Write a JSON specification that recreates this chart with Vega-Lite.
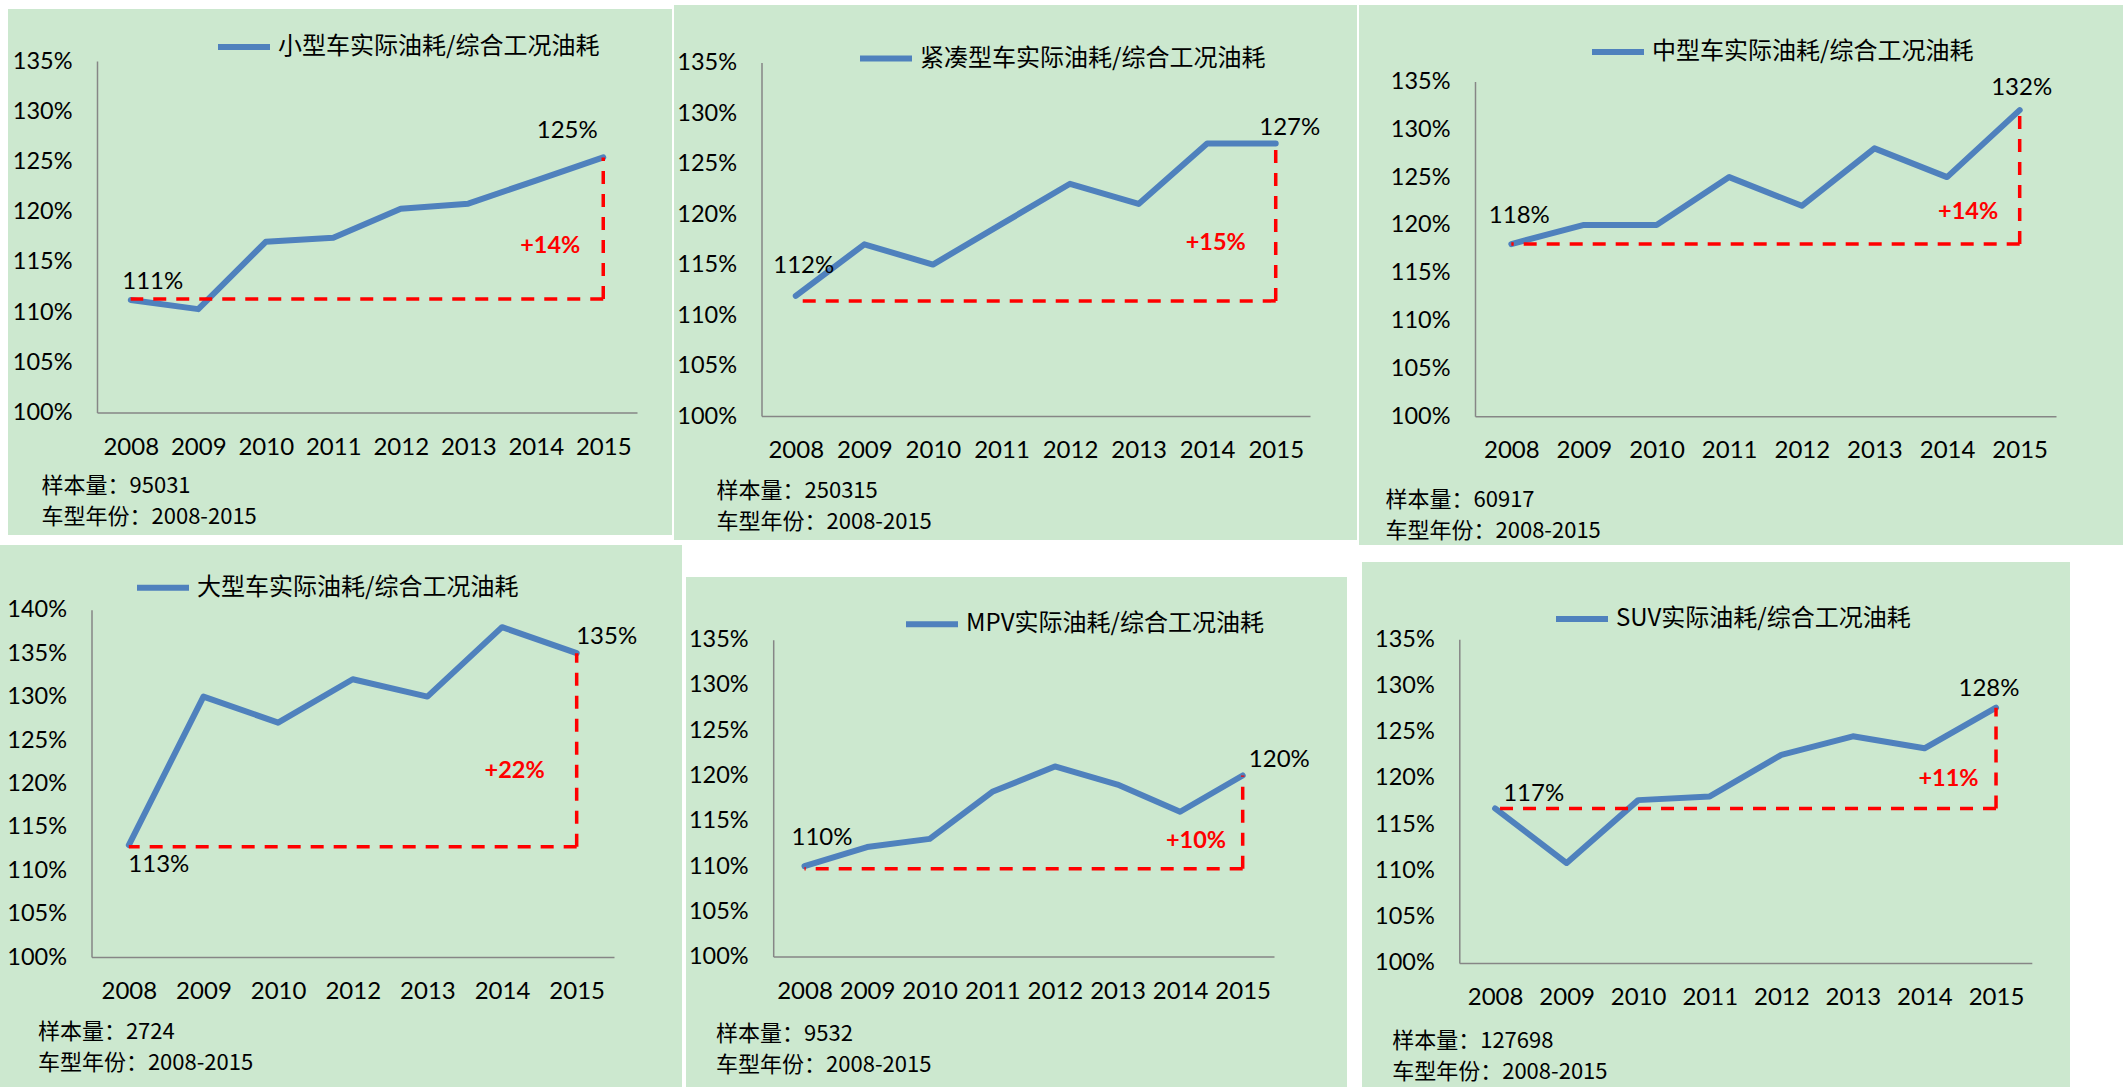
{
  "$schema": "https://vega.github.io/schema/vega-lite/v6.json",
  "padding": {"top": 5, "left": 0, "right": 0, "bottom": 0},
  "background": "#FFFFFF",
  "datasets": {
    "series": [
      {"panel": "小型车实际油耗/综合工况油耗", "year": 2008, "ratio": 1.112},
      {"panel": "小型车实际油耗/综合工况油耗", "year": 2009, "ratio": 1.103},
      {"panel": "小型车实际油耗/综合工况油耗", "year": 2010, "ratio": 1.170},
      {"panel": "小型车实际油耗/综合工况油耗", "year": 2011, "ratio": 1.174},
      {"panel": "小型车实际油耗/综合工况油耗", "year": 2012, "ratio": 1.203},
      {"panel": "小型车实际油耗/综合工况油耗", "year": 2013, "ratio": 1.208},
      {"panel": "小型车实际油耗/综合工况油耗", "year": 2014, "ratio": 1.231},
      {"panel": "小型车实际油耗/综合工况油耗", "year": 2015, "ratio": 1.254},
      {"panel": "紧凑型车实际油耗/综合工况油耗", "year": 2008, "ratio": 1.119},
      {"panel": "紧凑型车实际油耗/综合工况油耗", "year": 2009, "ratio": 1.170},
      {"panel": "紧凑型车实际油耗/综合工况油耗", "year": 2010, "ratio": 1.150},
      {"panel": "紧凑型车实际油耗/综合工况油耗", "year": 2011, "ratio": 1.190},
      {"panel": "紧凑型车实际油耗/综合工况油耗", "year": 2012, "ratio": 1.230},
      {"panel": "紧凑型车实际油耗/综合工况油耗", "year": 2013, "ratio": 1.210},
      {"panel": "紧凑型车实际油耗/综合工况油耗", "year": 2014, "ratio": 1.270},
      {"panel": "紧凑型车实际油耗/综合工况油耗", "year": 2015, "ratio": 1.270},
      {"panel": "中型车实际油耗/综合工况油耗", "year": 2008, "ratio": 1.180},
      {"panel": "中型车实际油耗/综合工况油耗", "year": 2009, "ratio": 1.200},
      {"panel": "中型车实际油耗/综合工况油耗", "year": 2010, "ratio": 1.200},
      {"panel": "中型车实际油耗/综合工况油耗", "year": 2011, "ratio": 1.250},
      {"panel": "中型车实际油耗/综合工况油耗", "year": 2012, "ratio": 1.220},
      {"panel": "中型车实际油耗/综合工况油耗", "year": 2013, "ratio": 1.280},
      {"panel": "中型车实际油耗/综合工况油耗", "year": 2014, "ratio": 1.250},
      {"panel": "中型车实际油耗/综合工况油耗", "year": 2015, "ratio": 1.320},
      {"panel": "大型车实际油耗/综合工况油耗", "year": 2008, "ratio": 1.129},
      {"panel": "大型车实际油耗/综合工况油耗", "year": 2009, "ratio": 1.300},
      {"panel": "大型车实际油耗/综合工况油耗", "year": 2010, "ratio": 1.270},
      {"panel": "大型车实际油耗/综合工况油耗", "year": 2012, "ratio": 1.320},
      {"panel": "大型车实际油耗/综合工况油耗", "year": 2013, "ratio": 1.300},
      {"panel": "大型车实际油耗/综合工况油耗", "year": 2014, "ratio": 1.380},
      {"panel": "大型车实际油耗/综合工况油耗", "year": 2015, "ratio": 1.350},
      {"panel": "MPV实际油耗/综合工况油耗", "year": 2008, "ratio": 1.100},
      {"panel": "MPV实际油耗/综合工况油耗", "year": 2009, "ratio": 1.121},
      {"panel": "MPV实际油耗/综合工况油耗", "year": 2010, "ratio": 1.130},
      {"panel": "MPV实际油耗/综合工况油耗", "year": 2011, "ratio": 1.182},
      {"panel": "MPV实际油耗/综合工况油耗", "year": 2012, "ratio": 1.210},
      {"panel": "MPV实际油耗/综合工况油耗", "year": 2013, "ratio": 1.190},
      {"panel": "MPV实际油耗/综合工况油耗", "year": 2014, "ratio": 1.160},
      {"panel": "MPV实际油耗/综合工况油耗", "year": 2015, "ratio": 1.200},
      {"panel": "SUV实际油耗/综合工况油耗", "year": 2008, "ratio": 1.167},
      {"panel": "SUV实际油耗/综合工况油耗", "year": 2009, "ratio": 1.108},
      {"panel": "SUV实际油耗/综合工况油耗", "year": 2010, "ratio": 1.176},
      {"panel": "SUV实际油耗/综合工况油耗", "year": 2011, "ratio": 1.180},
      {"panel": "SUV实际油耗/综合工况油耗", "year": 2012, "ratio": 1.225},
      {"panel": "SUV实际油耗/综合工况油耗", "year": 2013, "ratio": 1.245},
      {"panel": "SUV实际油耗/综合工况油耗", "year": 2014, "ratio": 1.232},
      {"panel": "SUV实际油耗/综合工况油耗", "year": 2015, "ratio": 1.276}
    ],
    "notes": [
      {"panel": "小型车实际油耗/综合工况油耗", "start": 2008, "year": 2015, "ratio": 1.113, "last": 1.254, "change": "+14%"},
      {"panel": "紧凑型车实际油耗/综合工况油耗", "start": 2008, "year": 2015, "ratio": 1.114, "last": 1.270, "change": "+15%"},
      {"panel": "中型车实际油耗/综合工况油耗", "start": 2008, "year": 2015, "ratio": 1.180, "last": 1.320, "change": "+14%"},
      {"panel": "大型车实际油耗/综合工况油耗", "start": 2008, "year": 2015, "ratio": 1.127, "last": 1.350, "change": "+22%"},
      {"panel": "MPV实际油耗/综合工况油耗", "start": 2008, "year": 2015, "ratio": 1.097, "last": 1.200, "change": "+10%"},
      {"panel": "SUV实际油耗/综合工况油耗", "start": 2008, "year": 2015, "ratio": 1.167, "last": 1.276, "change": "+11%"}
    ]
  },
  "resolve": {"scale": {"x": "independent", "y": "independent", "color": "independent"}, "legend": {"color": "independent"}},
  "spacing": 0,
  "vconcat": [
    {
      "spacing": 2,
      "resolve": {"scale": {"x": "independent", "y": "independent", "color": "independent"}, "legend": {"color": "independent"}},
      "hconcat": [
        {"width": 6, "height": 1, "data": {"values": []}, "mark": "point"},
        {
          "width": 664, "height": 540,
          "view": {"stroke": null, "fill": {"gradient": "linear", "x1": 0, "y1": 0, "x2": 0, "y2": 1, "stops": [{"offset": 0, "color": "#FFFFFF"}, {"offset": 0.0074, "color": "#FFFFFF"}, {"offset": 0.0074, "color": "#CCE8CF"}, {"offset": 0.9815, "color": "#CCE8CF"}, {"offset": 0.9815, "color": "#FFFFFF"}, {"offset": 1, "color": "#FFFFFF"}]}},
          "data": {"name": "series"},
          "encoding": {
            "x": {"field": "year", "type": "ordinal", "scale": {"type": "point", "range": [89, 629], "padding": 0.5},
                  "axis": {"offset": -132.4, "title": ["样本量：95031", "车型年份：2008-2015"], "titleX": 33, "titleY": 63.3}},
            "y": {"field": "ratio", "type": "quantitative", "scale": {"domain": [1, 1.35], "range": [407.6, 56], "nice": false, "zero": false},
                  "axis": {"offset": -89, "title": null, "format": ".0%", "values": [1, 1.05, 1.1, 1.15, 1.2, 1.25, 1.3, 1.35]}}
          },
          "layer": [
            {"transform": [{"filter": "datum.panel === '小型车实际油耗/综合工况油耗'"}],
             "mark": {"type": "line", "strokeWidth": 6, "strokeCap": "round", "strokeJoin": "round"},
             "encoding": {"color": {"field": "panel", "type": "nominal", "scale": {"range": ["#4F81BD"]}, "legend": {"orient": "none", "title": null, "legendX": 207, "legendY": 13}}}},
            {"transform": [{"filter": "datum.panel === '小型车实际油耗/综合工况油耗' && datum.year === 2008"}],
             "mark": {"type": "text", "dx": 22, "dy": -18}, "encoding": {"text": {"field": "ratio", "format": ".0%"}}},
            {"transform": [{"filter": "datum.panel === '小型车实际油耗/综合工况油耗' && datum.year === 2015"}],
             "mark": {"type": "text", "dx": -36, "dy": -26}, "encoding": {"text": {"field": "ratio", "format": ".0%"}}},
            {"data": {"name": "notes"}, "transform": [{"filter": "datum.panel === '小型车实际油耗/综合工况油耗'"}],
             "mark": {"type": "rule", "color": "#FF0000", "strokeWidth": 3.5, "strokeDash": [13, 10]}, "encoding": {"x2": {"field": "start"}}},
            {"data": {"name": "notes"}, "transform": [{"filter": "datum.panel === '小型车实际油耗/综合工况油耗'"}],
             "mark": {"type": "rule", "color": "#FF0000", "strokeWidth": 3.5, "strokeDash": [13, 10]}, "encoding": {"y2": {"field": "last"}}},
            {"data": {"name": "notes"}, "transform": [{"filter": "datum.panel === '小型车实际油耗/综合工况油耗'"}],
             "mark": {"type": "text", "dx": -53, "dy": -53, "color": "#FF0000", "fontWeight": "bold", "fontSize": 23.5}, "encoding": {"text": {"field": "change"}}}
          ]
        },
        {
          "width": 683, "height": 540,
          "view": {"stroke": null, "fill": {"gradient": "linear", "x1": 0, "y1": 0, "x2": 0, "y2": 1, "stops": [{"offset": 0, "color": "#CCE8CF"}, {"offset": 0.9907, "color": "#CCE8CF"}, {"offset": 0.9907, "color": "#FFFFFF"}, {"offset": 1, "color": "#FFFFFF"}]}},
          "data": {"name": "series"},
          "encoding": {
            "x": {"field": "year", "type": "ordinal", "scale": {"type": "point", "range": [87.5, 636], "padding": 0.5},
                  "axis": {"offset": -129, "title": ["样本量：250315", "车型年份：2008-2015"], "titleX": 42, "titleY": 64.3}},
            "y": {"field": "ratio", "type": "quantitative", "scale": {"domain": [1, 1.35], "range": [411, 57.6], "nice": false, "zero": false},
                  "axis": {"offset": -87.5, "title": null, "format": ".0%", "values": [1, 1.05, 1.1, 1.15, 1.2, 1.25, 1.3, 1.35]}}
          },
          "layer": [
            {"transform": [{"filter": "datum.panel === '紧凑型车实际油耗/综合工况油耗'"}],
             "mark": {"type": "line", "strokeWidth": 6, "strokeCap": "round", "strokeJoin": "round"},
             "encoding": {"color": {"field": "panel", "type": "nominal", "scale": {"range": ["#4F81BD"]}, "legend": {"orient": "none", "title": null, "legendX": 183, "legendY": 24.6}}}},
            {"transform": [{"filter": "datum.panel === '紧凑型车实际油耗/综合工况油耗' && datum.year === 2008"}],
             "mark": {"type": "text", "dx": 8, "dy": -29.5}, "encoding": {"text": {"field": "ratio", "format": ".0%"}}},
            {"transform": [{"filter": "datum.panel === '紧凑型车实际油耗/综合工况油耗' && datum.year === 2015"}],
             "mark": {"type": "text", "dx": 14, "dy": -15}, "encoding": {"text": {"field": "ratio", "format": ".0%"}}},
            {"data": {"name": "notes"}, "transform": [{"filter": "datum.panel === '紧凑型车实际油耗/综合工况油耗'"}],
             "mark": {"type": "rule", "color": "#FF0000", "strokeWidth": 3.5, "strokeDash": [13, 10]}, "encoding": {"x2": {"field": "start"}}},
            {"data": {"name": "notes"}, "transform": [{"filter": "datum.panel === '紧凑型车实际油耗/综合工况油耗'"}],
             "mark": {"type": "rule", "color": "#FF0000", "strokeWidth": 3.5, "strokeDash": [13, 10]}, "encoding": {"y2": {"field": "last"}}},
            {"data": {"name": "notes"}, "transform": [{"filter": "datum.panel === '紧凑型车实际油耗/综合工况油耗'"}],
             "mark": {"type": "text", "dx": -60, "dy": -58, "color": "#FF0000", "fontWeight": "bold", "fontSize": 23.5}, "encoding": {"text": {"field": "change"}}}
          ]
        },
        {
          "width": 764, "height": 540,
          "view": {"stroke": null, "fill": "#CCE8CF"},
          "data": {"name": "series"},
          "encoding": {
            "x": {"field": "year", "type": "ordinal", "scale": {"type": "point", "range": [116, 697], "padding": 0.5},
                  "axis": {"offset": -128.7, "title": ["样本量：60917", "车型年份：2008-2015"], "titleX": 26, "titleY": 73.4}},
            "y": {"field": "ratio", "type": "quantitative", "scale": {"domain": [1, 1.35], "range": [411.3, 76.4], "nice": false, "zero": false},
                  "axis": {"offset": -116, "title": null, "format": ".0%", "values": [1, 1.05, 1.1, 1.15, 1.2, 1.25, 1.3, 1.35]}}
          },
          "layer": [
            {"transform": [{"filter": "datum.panel === '中型车实际油耗/综合工况油耗'"}],
             "mark": {"type": "line", "strokeWidth": 6, "strokeCap": "round", "strokeJoin": "round"},
             "encoding": {"color": {"field": "panel", "type": "nominal", "scale": {"range": ["#4F81BD"]}, "legend": {"orient": "none", "title": null, "legendX": 230, "legendY": 18.1}}}},
            {"transform": [{"filter": "datum.panel === '中型车实际油耗/综合工况油耗' && datum.year === 2008"}],
             "mark": {"type": "text", "dx": 8, "dy": -28}, "encoding": {"text": {"field": "ratio", "format": ".0%"}}},
            {"transform": [{"filter": "datum.panel === '中型车实际油耗/综合工况油耗' && datum.year === 2015"}],
             "mark": {"type": "text", "dx": 2, "dy": -22}, "encoding": {"text": {"field": "ratio", "format": ".0%"}}},
            {"data": {"name": "notes"}, "transform": [{"filter": "datum.panel === '中型车实际油耗/综合工况油耗'"}],
             "mark": {"type": "rule", "color": "#FF0000", "strokeWidth": 3.5, "strokeDash": [13, 10]}, "encoding": {"x2": {"field": "start"}}},
            {"data": {"name": "notes"}, "transform": [{"filter": "datum.panel === '中型车实际油耗/综合工况油耗'"}],
             "mark": {"type": "rule", "color": "#FF0000", "strokeWidth": 3.5, "strokeDash": [13, 10]}, "encoding": {"y2": {"field": "last"}}},
            {"data": {"name": "notes"}, "transform": [{"filter": "datum.panel === '中型车实际油耗/综合工况油耗'"}],
             "mark": {"type": "text", "dx": -51.5, "dy": -32, "color": "#FF0000", "fontWeight": "bold", "fontSize": 23.5}, "encoding": {"text": {"field": "change"}}}
          ]
        }
      ]
    },
    {
      "spacing": 4,
      "resolve": {"scale": {"x": "independent", "y": "independent", "color": "independent"}, "legend": {"color": "independent"}},
      "hconcat": [
        {
          "width": 682, "height": 542,
          "view": {"stroke": null, "fill": "#CCE8CF"},
          "data": {"name": "series"},
          "encoding": {
            "x": {"field": "year", "type": "ordinal", "scale": {"type": "point", "range": [91.5, 614], "padding": 0.5},
                  "axis": {"offset": -130, "title": ["样本量：2724", "车型年份：2008-2015"], "titleX": 37.4, "titleY": 64.1}},
            "y": {"field": "ratio", "type": "quantitative", "scale": {"domain": [1, 1.4], "range": [412, 64.8], "nice": false, "zero": false},
                  "axis": {"offset": -91.5, "title": null, "format": ".0%", "values": [1, 1.05, 1.1, 1.15, 1.2, 1.25, 1.3, 1.35, 1.4]}}
          },
          "layer": [
            {"transform": [{"filter": "datum.panel === '大型车实际油耗/综合工况油耗'"}],
             "mark": {"type": "line", "strokeWidth": 6, "strokeCap": "round", "strokeJoin": "round"},
             "encoding": {"color": {"field": "panel", "type": "nominal", "scale": {"range": ["#4F81BD"]}, "legend": {"orient": "none", "title": null, "legendX": 134, "legendY": 13.7}}}},
            {"transform": [{"filter": "datum.panel === '大型车实际油耗/综合工况油耗' && datum.year === 2008"}],
             "mark": {"type": "text", "dx": 30, "dy": 20}, "encoding": {"text": {"field": "ratio", "format": ".0%"}}},
            {"transform": [{"filter": "datum.panel === '大型车实际油耗/综合工况油耗' && datum.year === 2015"}],
             "mark": {"type": "text", "dx": 30, "dy": -16}, "encoding": {"text": {"field": "ratio", "format": ".0%"}}},
            {"data": {"name": "notes"}, "transform": [{"filter": "datum.panel === '大型车实际油耗/综合工况油耗'"}],
             "mark": {"type": "rule", "color": "#FF0000", "strokeWidth": 3.5, "strokeDash": [13, 10]}, "encoding": {"x2": {"field": "start"}}},
            {"data": {"name": "notes"}, "transform": [{"filter": "datum.panel === '大型车实际油耗/综合工况油耗'"}],
             "mark": {"type": "rule", "color": "#FF0000", "strokeWidth": 3.5, "strokeDash": [13, 10]}, "encoding": {"y2": {"field": "last"}}},
            {"data": {"name": "notes"}, "transform": [{"filter": "datum.panel === '大型车实际油耗/综合工况油耗'"}],
             "mark": {"type": "text", "dx": -62, "dy": -76, "color": "#FF0000", "fontWeight": "bold", "fontSize": 23.5}, "encoding": {"text": {"field": "change"}}}
          ]
        },
        {
          "spacing": 15,
          "resolve": {"scale": {"x": "independent", "y": "independent", "color": "independent"}, "legend": {"color": "independent"}},
          "hconcat": [
            {
              "width": 661, "height": 542,
              "view": {"stroke": null, "fill": {"gradient": "linear", "x1": 0, "y1": 0, "x2": 0, "y2": 1, "stops": [{"offset": 0, "color": "#FFFFFF"}, {"offset": 0.059, "color": "#FFFFFF"}, {"offset": 0.059, "color": "#CCE8CF"}, {"offset": 1, "color": "#CCE8CF"}]}},
              "data": {"name": "series"},
              "encoding": {
                "x": {"field": "year", "type": "ordinal", "scale": {"type": "point", "range": [87.2, 588], "padding": 0.5},
                      "axis": {"offset": -130.4, "title": ["样本量：9532", "车型年份：2008-2015"], "titleX": 29.6, "titleY": 66.6}},
                "y": {"field": "ratio", "type": "quantitative", "scale": {"domain": [1, 1.35], "range": [411.6, 94.7], "nice": false, "zero": false},
                      "axis": {"offset": -87.2, "title": null, "format": ".0%", "values": [1, 1.05, 1.1, 1.15, 1.2, 1.25, 1.3, 1.35]}}
              },
              "layer": [
                {"transform": [{"filter": "datum.panel === 'MPV实际油耗/综合工况油耗'"}],
                 "mark": {"type": "line", "strokeWidth": 6, "strokeCap": "round", "strokeJoin": "round"},
                 "encoding": {"color": {"field": "panel", "type": "nominal", "scale": {"range": ["#4F81BD"]}, "legend": {"orient": "none", "title": null, "legendX": 217, "legendY": 50.2}}}},
                {"transform": [{"filter": "datum.panel === 'MPV实际油耗/综合工况油耗' && datum.year === 2008"}],
                 "mark": {"type": "text", "dx": 17.5, "dy": -28}, "encoding": {"text": {"field": "ratio", "format": ".0%"}}},
                {"transform": [{"filter": "datum.panel === 'MPV实际油耗/综合工况油耗' && datum.year === 2015"}],
                 "mark": {"type": "text", "dx": 36.6, "dy": -15.5}, "encoding": {"text": {"field": "ratio", "format": ".0%"}}},
                {"data": {"name": "notes"}, "transform": [{"filter": "datum.panel === 'MPV实际油耗/综合工况油耗'"}],
                 "mark": {"type": "rule", "color": "#FF0000", "strokeWidth": 3.5, "strokeDash": [13, 10]}, "encoding": {"x2": {"field": "start"}}},
                {"data": {"name": "notes"}, "transform": [{"filter": "datum.panel === 'MPV实际油耗/综合工况油耗'"}],
                 "mark": {"type": "rule", "color": "#FF0000", "strokeWidth": 3.5, "strokeDash": [13, 10]}, "encoding": {"y2": {"field": "last"}}},
                {"data": {"name": "notes"}, "transform": [{"filter": "datum.panel === 'MPV实际油耗/综合工况油耗'"}],
                 "mark": {"type": "text", "dx": -46.7, "dy": -28, "color": "#FF0000", "fontWeight": "bold", "fontSize": 23.5}, "encoding": {"text": {"field": "change"}}}
              ]
            },
            {
              "width": 708, "height": 542,
              "view": {"stroke": null, "fill": {"gradient": "linear", "x1": 0, "y1": 0, "x2": 0, "y2": 1, "stops": [{"offset": 0, "color": "#FFFFFF"}, {"offset": 0.0314, "color": "#FFFFFF"}, {"offset": 0.0314, "color": "#CCE8CF"}, {"offset": 1, "color": "#CCE8CF"}]}},
              "data": {"name": "series"},
              "encoding": {
                "x": {"field": "year", "type": "ordinal", "scale": {"type": "point", "range": [97.3, 669.8], "padding": 0.5},
                      "axis": {"offset": -124.1, "title": ["样本量：127698", "车型年份：2008-2015"], "titleX": 29.7, "titleY": 67.6}},
                "y": {"field": "ratio", "type": "quantitative", "scale": {"domain": [1, 1.35], "range": [417.9, 94.2], "nice": false, "zero": false},
                      "axis": {"offset": -97.3, "title": null, "format": ".0%", "values": [1, 1.05, 1.1, 1.15, 1.2, 1.25, 1.3, 1.35]}}
              },
              "layer": [
                {"transform": [{"filter": "datum.panel === 'SUV实际油耗/综合工况油耗'"}],
                 "mark": {"type": "line", "strokeWidth": 6, "strokeCap": "round", "strokeJoin": "round"},
                 "encoding": {"color": {"field": "panel", "type": "nominal", "scale": {"range": ["#4F81BD"]}, "legend": {"orient": "none", "title": null, "legendX": 191, "legendY": 45}}}},
                {"transform": [{"filter": "datum.panel === 'SUV实际油耗/综合工况油耗' && datum.year === 2008"}],
                 "mark": {"type": "text", "dx": 38.6, "dy": -14.3}, "encoding": {"text": {"field": "ratio", "format": ".0%"}}},
                {"transform": [{"filter": "datum.panel === 'SUV实际油耗/综合工况油耗' && datum.year === 2015"}],
                 "mark": {"type": "text", "dx": -7, "dy": -18.6}, "encoding": {"text": {"field": "ratio", "format": ".0%"}}},
                {"data": {"name": "notes"}, "transform": [{"filter": "datum.panel === 'SUV实际油耗/综合工况油耗'"}],
                 "mark": {"type": "rule", "color": "#FF0000", "strokeWidth": 3.5, "strokeDash": [13, 10]}, "encoding": {"x2": {"field": "start"}}},
                {"data": {"name": "notes"}, "transform": [{"filter": "datum.panel === 'SUV实际油耗/综合工况油耗'"}],
                 "mark": {"type": "rule", "color": "#FF0000", "strokeWidth": 3.5, "strokeDash": [13, 10]}, "encoding": {"y2": {"field": "last"}}},
                {"data": {"name": "notes"}, "transform": [{"filter": "datum.panel === 'SUV实际油耗/综合工况油耗'"}],
                 "mark": {"type": "text", "dx": -47.5, "dy": -29.5, "color": "#FF0000", "fontWeight": "bold", "fontSize": 23.5}, "encoding": {"text": {"field": "change"}}}
              ]
            }
          ]
        }
      ]
    }
  ],
  "config": {
    "view": {"stroke": null},
    "axis": {"domainColor": "#868686", "domainWidth": 1.5, "ticks": false, "tickSize": 0, "grid": false,
             "labelFont": "Lato", "labelColor": "#000000", "labelFlush": false, "labelOverlap": false,
             "titleFont": "Noto Sans CJK SC", "titleFontSize": 22, "titleFontWeight": "normal", "titleColor": "#000000",
             "titleLineHeight": 31, "titleAlign": "left", "titleBaseline": "top", "titlePadding": 0},
    "axisX": {"labelFontSize": 24, "labelPadding": 34.5, "labelBaseline": "middle", "labelAngle": 0, "titleAngle": 0},
    "axisY": {"labelFontSize": 23.5, "labelPadding": 25},
    "legend": {"symbolType": "stroke", "symbolSize": 2704, "symbolStrokeWidth": 6, "labelFont": "Noto Sans CJK SC",
               "labelFontSize": 24, "labelColor": "#000000", "labelOffset": 5, "labelLimit": 0, "padding": 0, "offset": 0},
    "text": {"font": "Lato", "fontSize": 24, "color": "#000000", "align": "center", "baseline": "middle"}
  }
}
